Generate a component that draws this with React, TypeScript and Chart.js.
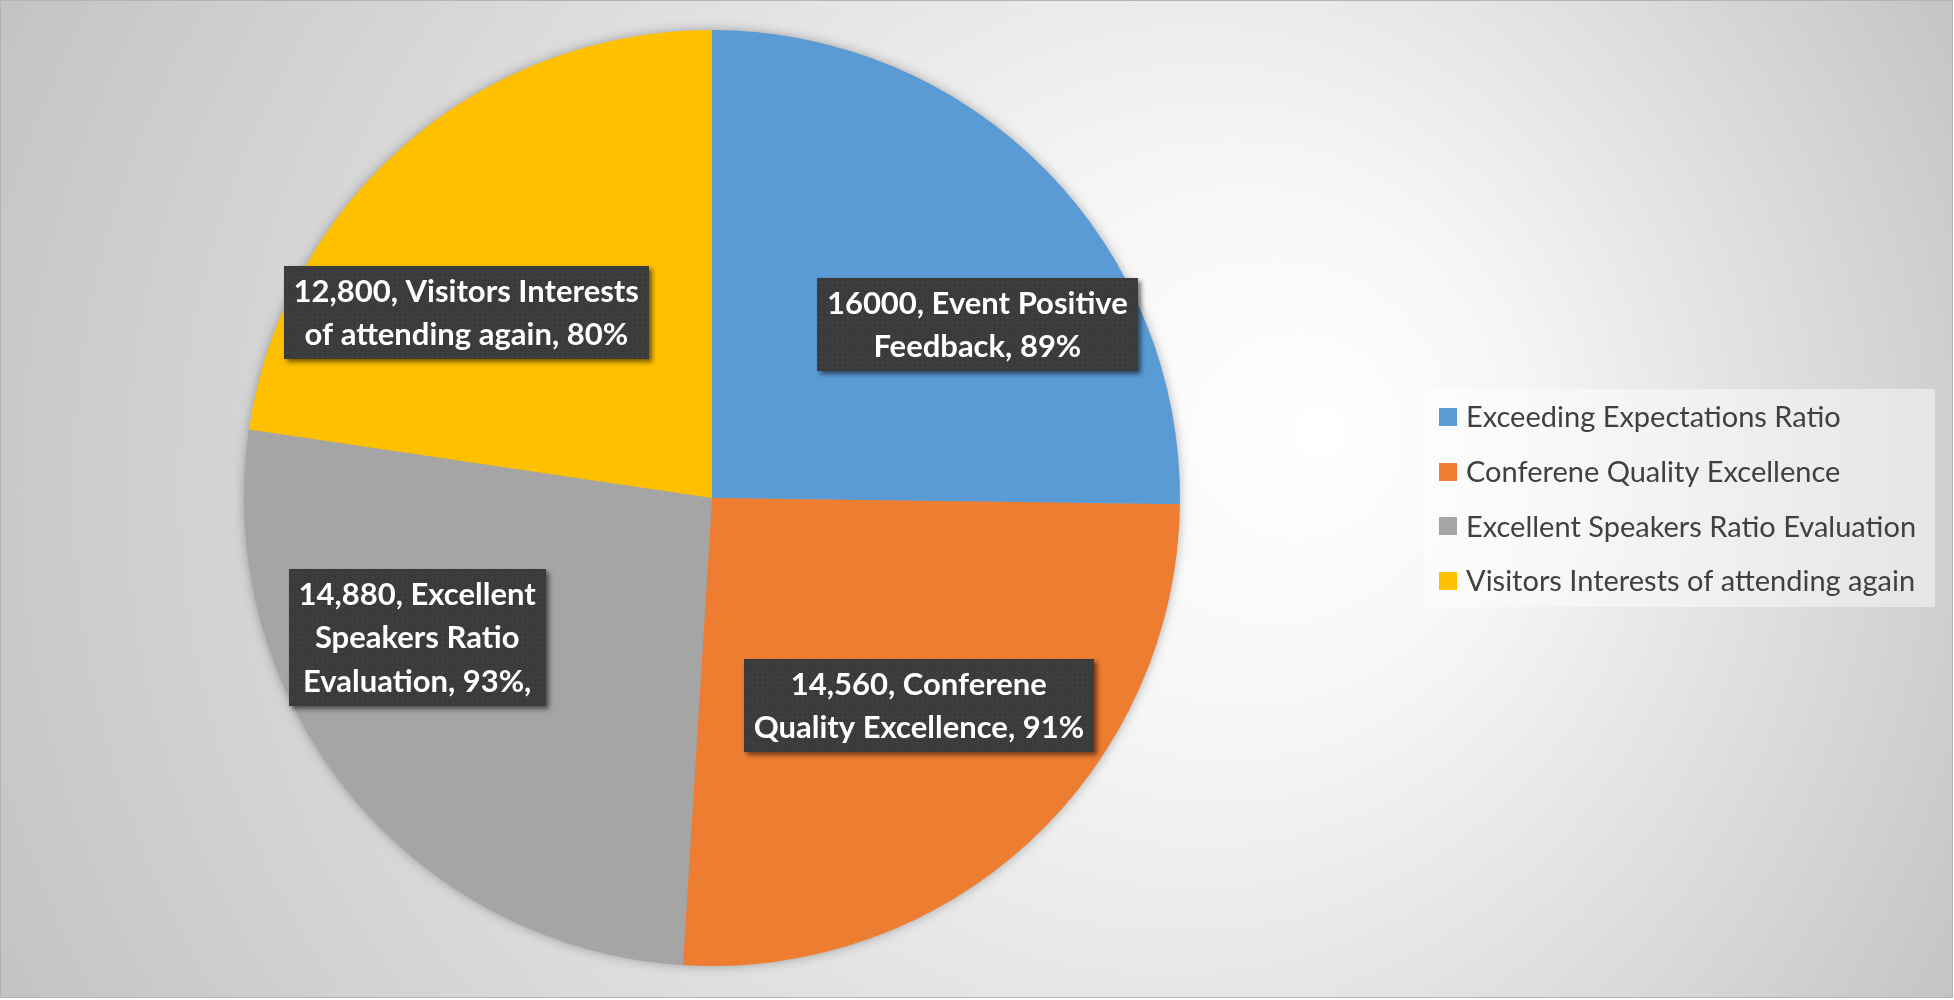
import React, { useEffect, useRef } from "react";
import { Chart, registerables } from "chart.js";

Chart.register(...registerables);

const categories = [
  "Exceeding Expectations Ratio",
  "Conferene Quality Excellence",
  "Excellent Speakers Ratio Evaluation",
  "Visitors Interests of attending again",
];
const percentValues = [89, 91, 93, 80];
const countValues = ["16000", "14,560", "14,880", "12,800"];
const labelLines = [
  [`${countValues[0]}, Event Positive`, `Feedback, ${percentValues[0]}%`],
  [`${countValues[1]}, Conferene`, `Quality Excellence, ${percentValues[1]}%`],
  [`${countValues[2]}, Excellent`, "Speakers Ratio", `Evaluation, ${percentValues[2]}%,`],
  [`${countValues[3]}, Visitors Interests`, `of attending again, ${percentValues[3]}%`],
];
const colors = ["#5B9BD5", "#ED7D31", "#A5A5A5", "#FFC000"];

// label box centre relative to pie centre, as fraction of radius
const labelPos = [
  [0.567, -0.371],
  [0.442, 0.443],
  [-0.63, 0.298],
  [-0.525, -0.396],
];

const W = 1954;
const H = 1000;

function makePattern(ctx: CanvasRenderingContext2D) {
  const c = document.createElement("canvas");
  c.width = 5;
  c.height = 5;
  const p = c.getContext("2d")!;
  p.fillStyle = "#3b3b3b";
  p.fillRect(0, 0, 5, 5);
  p.fillStyle = "#4d4d4d";
  p.fillRect(2, 2, 1, 1);
  return ctx.createPattern(c, "repeat");
}

const bgPlugin = {
  id: "bgPlugin",
  beforeDraw(chart: any) {
    const ctx = chart.ctx as CanvasRenderingContext2D;
    ctx.save();
    ctx.fillStyle = "#ffffff";
    ctx.fillRect(0, 0, W, H);
    const g = ctx.createRadialGradient(1330, 430, 0, 977, 500, 1120);
    g.addColorStop(0, "#ffffff");
    g.addColorStop(0.25, "#f6f6f6");
    g.addColorStop(1, "#c2c2c2");
    ctx.fillStyle = g;
    ctx.fillRect(0, 0, 1953, 998);
    ctx.strokeStyle = "#b4b4b4";
    ctx.lineWidth = 1;
    ctx.strokeRect(0.5, 0.5, 1952, 997);
    ctx.restore();
  },
  beforeDatasetsDraw(chart: any) {
    const ctx = chart.ctx as CanvasRenderingContext2D;
    const arc = chart.getDatasetMeta(0).data[0];
    if (!arc) return;
    ctx.save();
    ctx.shadowColor = "rgba(0,0,0,0.35)";
    ctx.shadowBlur = 12;
    ctx.fillStyle = "#a0a0a0";
    ctx.beginPath();
    ctx.arc(arc.x, arc.y, arc.outerRadius - 1, 0, Math.PI * 2);
    ctx.fill();
    ctx.restore();
  },
  afterDatasetsDraw(chart: any) {
    const ctx = chart.ctx as CanvasRenderingContext2D;
    const meta = chart.getDatasetMeta(0);
    const pattern = makePattern(ctx);
    ctx.save();
    ctx.font = "bold 31px Lato";
    ctx.textAlign = "center";
    ctx.textBaseline = "middle";
    const lineH = 43.5;
    meta.data.forEach((arc: any, i: number) => {
      const r = arc.outerRadius;
      const cx = arc.x + labelPos[i][0] * r;
      const cy = arc.y + labelPos[i][1] * r;
      const lines = labelLines[i];
      let maxW = 0;
      lines.forEach((l) => (maxW = Math.max(maxW, ctx.measureText(l).width)));
      const bw = Math.round(maxW + 20);
      const bh = Math.round(lines.length * lineH + 6);
      const x0 = Math.round(cx - bw / 2);
      const y0 = Math.round(cy - bh / 2);
      ctx.save();
      ctx.shadowColor = "rgba(0,0,0,0.55)";
      ctx.shadowBlur = 5;
      ctx.shadowOffsetX = 3;
      ctx.shadowOffsetY = 3;
      ctx.fillStyle = pattern || "#3b3b3b";
      ctx.fillRect(x0, y0, bw, bh);
      ctx.restore();
      ctx.fillStyle = "#ffffff";
      lines.forEach((l, k) => {
        ctx.fillText(l, cx, cy + (k - (lines.length - 1) / 2) * lineH + 1);
      });
    });
    ctx.restore();

    // legend
    ctx.save();
    ctx.fillStyle = "rgba(255,255,255,0.45)";
    ctx.fillRect(1424, 389, 511, 218);
    ctx.font = "29px Lato";
    ctx.textAlign = "left";
    ctx.textBaseline = "middle";
    categories.forEach((c, i) => {
      const yc = 417 + i * 54.7;
      ctx.fillStyle = colors[i];
      ctx.fillRect(1439, Math.round(yc - 9), 18, 18);
      ctx.fillStyle = "#404040";
      ctx.fillText(c, 1466, yc + 1);
    });
    ctx.restore();
  },
};

export default function App() {
  const ref = useRef<HTMLCanvasElement>(null);
  useEffect(() => {
    document.body.style.margin = "0";
    const chart = new Chart(ref.current!, {
      type: "pie",
      data: {
        labels: categories,
        datasets: [
          {
            data: percentValues,
            backgroundColor: colors,
            borderWidth: 0,
          },
        ],
      },
      options: {
        responsive: false,
        animation: false,
        layout: { padding: { left: 244, right: 774, top: 30, bottom: 34 } },
        plugins: {
          legend: { display: false },
          tooltip: { enabled: false },
        },
      },
      plugins: [bgPlugin],
    });
    return () => chart.destroy();
  }, []);
  return (
    <div style={{ width: W, height: H }}>
      <canvas ref={ref} width={W} height={H} style={{ display: "block" }} />
    </div>
  );
}
